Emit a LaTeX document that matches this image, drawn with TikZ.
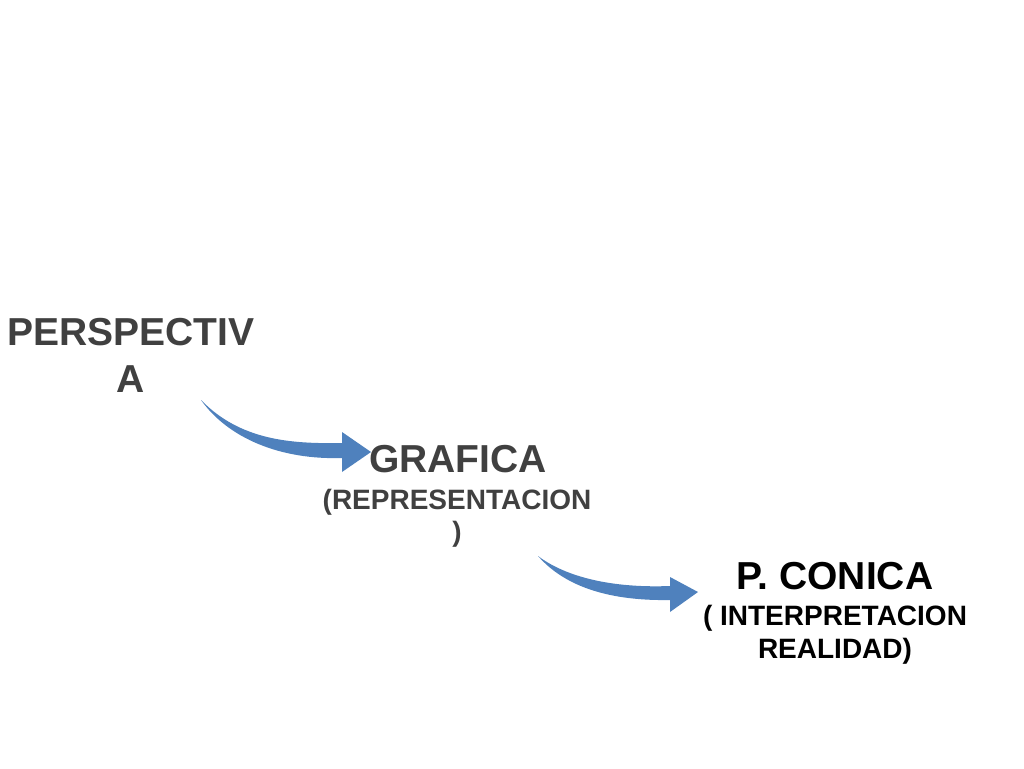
\documentclass[tikz,border=0pt]{standalone}
\usepackage{fontspec}
\setmainfont{Liberation Sans}
\usepackage{tikz}
\usetikzlibrary{positioning}
\definecolor{titlegray}{HTML}{404040}
\definecolor{arrowblue}{HTML}{4F81BD}
\tikzset{
  head/.style={font=\bfseries\fontsize{39}{47}\selectfont, align=center, inner sep=0pt, text=titlegray},
  sub/.style={font=\bfseries\fontsize{28}{32}\selectfont, align=center, inner sep=0pt, text=titlegray},
  bluebend/.style={fill=arrowblue, draw=none}
}
\begin{document}
\begin{tikzpicture}[x=1pt,y=-1pt]
\useasboundingbox (0,0) rectangle (1024,768);
\node[head, anchor=base] (persp) at (131,392) {PERSPECTIV\\A};
\node[head, anchor=base] (graf) at (458,472) {GRAFICA};
\node[sub, anchor=base] (repr) at (457,541) {(REPRESENTACION\\)};
\node[head, anchor=base, text=black] (conica) at (835,589) {P. CONICA};
\node[sub, anchor=base, text=black, font=\bfseries\fontsize{28}{33}\selectfont] (interp) at (835,658) {( INTERPRETACION\\REALIDAD)};
% curved block arrows
\fill[bluebend] (201,400) .. controls (240,440) and (290,444) .. (342,443)
  -- (342,432) -- (371,452) -- (342,472) -- (342,458)
  .. controls (280,460) and (228,438) .. (201,400) -- cycle;
\fill[bluebend] (538,556) .. controls (570,580) and (620,588) .. (670,586)
  -- (670,577) -- (698,592) -- (670,612) -- (670,600)
  .. controls (612,601) and (566,588) .. (538,556) -- cycle;
\end{tikzpicture}
\end{document}
